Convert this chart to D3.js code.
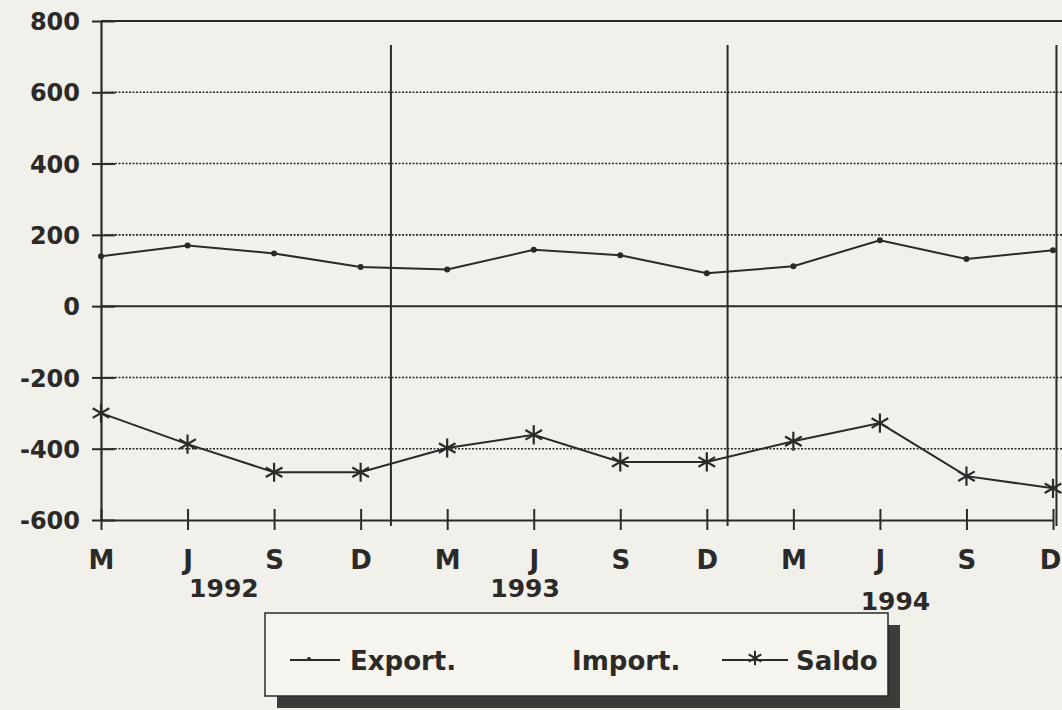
<!DOCTYPE html>
<html>
<head>
<meta charset="utf-8">
<script src="https://cdn.jsdelivr.net/npm/d3@7"></script>
<style>
  body { margin: 0; background: #f2f0eb; }
  svg { display: block; }
  text { font-family: "DejaVu Sans", sans-serif; font-weight: bold; fill: #2b2a28; }
</style>
</head>
<body>
<svg id="chart" width="1062" height="710"></svg>
<script>
// quarter labels along the x axis
var months = ["M", "J", "S", "D", "M", "J", "S", "D", "M", "J", "S", "D"];
// years, with the quarter index they sit under
var years = ["1992", "1993", "1994"];
var yearPos = [1.42, 4.9, 9.18];
// series (millones de US$)
var exportVals = [140, 170, 148, 110, 103, 158, 143, 92, 112, 185, 132, 157];
var saldoVals = [-300, -387, -466, -466, -398, -361, -437, -437, -379, -328, -477, -511];
var yTicks = [-600, -400, -200, 0, 200, 400, 600, 800];

var ink = "#2b2a28";
var svg = d3.select("#chart");

var x = d3.scaleLinear().domain([0, 11]).range([101, 1053]);
var y = d3.scaleLinear().domain([-600, 800]).range([520, 21]);

// grid lines: dotted except 0 and 800
svg.selectAll("line.grid").data(yTicks.filter(function (d) { return d != -600; }))
  .enter().append("line")
  .attr("x1", 101).attr("x2", 1062)
  .attr("y1", function (d) { return y(d); }).attr("y2", function (d) { return y(d); })
  .attr("stroke", ink)
  .attr("stroke-width", function (d) { return (d == 0 || d == 800) ? 2 : 1.6; })
  .attr("stroke-dasharray", function (d) { return (d == 0 || d == 800) ? null : "2,1.5"; });

// year separators and right border
[3.35, 7.24, 11.04].forEach(function (q) {
  svg.append("line")
    .attr("x1", x(q)).attr("x2", x(q))
    .attr("y1", 45).attr("y2", 526)
    .attr("stroke", ink).attr("stroke-width", 2);
});

// y axis
var yAxis = d3.axisLeft(y).tickValues(yTicks).tickSize(0)
  .tickFormat(function (d) { return d < 0 ? "-" + (-d) : "" + d; });
var gy = svg.append("g").attr("transform", "translate(101,0)").call(yAxis);
gy.select(".domain").attr("stroke", ink).attr("stroke-width", 2.2);
gy.selectAll("text").style("font-size", "24px").style("font-family", null)
  .attr("dy", "0.36em").attr("x", -21);
gy.selectAll(".tick").append("line")
  .attr("x1", -9).attr("x2", 14).attr("stroke", ink).attr("stroke-width", 2);

// x axis
var xAxis = d3.axisBottom(x).tickValues(d3.range(12)).tickSize(0)
  .tickFormat(function (d, i) { return months[i]; });
var gx = svg.append("g").attr("transform", "translate(0,520)").call(xAxis);
gx.select(".domain").attr("stroke", ink).attr("stroke-width", 2.2);
gx.selectAll("text").style("font-size", "26px").style("font-family", null)
  .attr("y", 49).attr("dy", null)
  .attr("x", function (d, i) { return i == 11 ? -3 : 0; });
gx.selectAll(".tick").append("line")
  .attr("y1", -11).attr("y2", 10).attr("stroke", ink).attr("stroke-width", 2);

svg.selectAll("text.year").data(years).enter().append("text")
  .attr("class", "year")
  .attr("x", function (d, i) { return x(yearPos[i]); })
  .attr("y", function (d, i) { return i == 2 ? 610 : 597; })
  .attr("text-anchor", "middle")
  .style("font-size", "25px")
  .text(function (d) { return d; });

var line = d3.line()
  .x(function (d, i) { return x(i); })
  .y(function (d) { return y(d); });

// export line with small dots
svg.append("path").datum(exportVals).attr("d", line)
  .attr("fill", "none").attr("stroke", ink).attr("stroke-width", 2);
svg.selectAll("circle.exp").data(exportVals).enter().append("circle")
  .attr("cx", function (d, i) { return x(i); })
  .attr("cy", function (d) { return y(d); })
  .attr("r", 3).attr("fill", ink);

// saldo line with asterisks
svg.append("path").datum(saldoVals).attr("d", line)
  .attr("fill", "none").attr("stroke", ink).attr("stroke-width", 2);
var star = d3.symbol().type(d3.symbolAsterisk).size(260);
svg.selectAll("path.sal").data(saldoVals).enter().append("path")
  .attr("transform", function (d, i) { return "translate(" + x(i) + "," + y(d) + ")"; })
  .attr("d", star)
  .attr("fill", "none").attr("stroke", ink).attr("stroke-width", 2.2);

// legend box with shadow
svg.append("rect").attr("x", 277).attr("y", 625).attr("width", 623).attr("height", 83).attr("fill", "#3d3b39");
svg.append("rect").attr("x", 265).attr("y", 613).attr("width", 623).attr("height", 83)
  .attr("fill", "#f6f4ef").attr("stroke", ink).attr("stroke-width", 1.5);

var ly = 660;
svg.append("line").attr("x1", 290).attr("x2", 340).attr("y1", ly).attr("y2", ly)
  .attr("stroke", ink).attr("stroke-width", 2);
svg.append("circle").attr("cx", 309).attr("cy", ly - 1).attr("r", 2).attr("fill", ink);
svg.append("text").attr("x", 350).attr("y", ly + 10).style("font-size", "26px").text("Export.");
svg.append("text").attr("x", 572).attr("y", ly + 10).style("font-size", "26px").text("Import.");
svg.append("line").attr("x1", 722).attr("x2", 788).attr("y1", ly).attr("y2", ly)
  .attr("stroke", ink).attr("stroke-width", 2);
svg.append("path").attr("transform", "translate(755," + (ly - 2) + ")")
  .attr("d", d3.symbol().type(d3.symbolAsterisk).size(150))
  .attr("fill", "none").attr("stroke", ink).attr("stroke-width", 2);
svg.append("text").attr("x", 796).attr("y", ly + 10).style("font-size", "26px").text("Saldo");
</script>
</body>
</html>
